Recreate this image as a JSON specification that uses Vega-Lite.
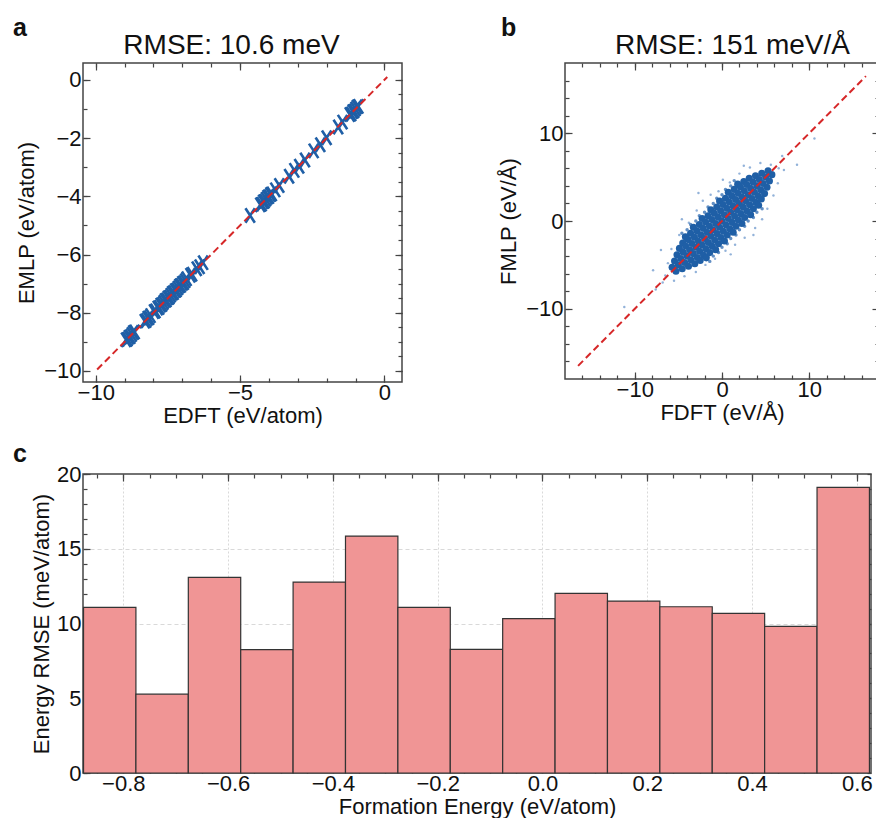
{
  "$schema": "https://vega.github.io/schema/vega-lite/v6.json",
  "autosize": {"type": "pad"},
  "padding": {"left": 12, "top": 15, "right": 0, "bottom": 0},
  "background": "white",
  "config": {
    "font": "Liberation Sans",
    "view": {"stroke": "#444", "strokeWidth": 1.5},
    "axis": {"domain": false, "grid": false, "labelFont": "Liberation Sans", "labelFontSize": 22, "labelColor": "#111", "titleFont": "Liberation Sans", "titleFontSize": 22, "titleFontWeight": "normal", "titleColor": "#111", "tickColor": "#444", "tickWidth": 1.2, "labelOverlap": false, "labelFlush": false, "zindex": 1, "minExtent": 0},
    "title": {"font": "Liberation Sans", "fontSize": 25, "fontWeight": "bold", "color": "#111", "anchor": "start", "frame": "group", "baseline": "alphabetic"}
  },
  "spacing": 14,
  "vconcat": [
    {
      "spacing": 92,
      "hconcat": [
        {
          "width": 319,
          "height": 319,
          "title": {"text": "a", "dx": -70, "offset": -10},
          "layer": [
            {
              "data": {"values": [
                {"E_DFT": -8.95, "E_MLP": -8.93}, {"E_DFT": -8.9, "E_MLP": -8.91}, {"E_DFT": -8.85, "E_MLP": -8.84}, {"E_DFT": -8.8, "E_MLP": -8.82}, {"E_DFT": -8.75, "E_MLP": -8.75}, {"E_DFT": -8.7, "E_MLP": -8.68}, {"E_DFT": -8.65, "E_MLP": -8.66},
                {"E_DFT": -8.3, "E_MLP": -8.29}, {"E_DFT": -8.25, "E_MLP": -8.27}, {"E_DFT": -8.2, "E_MLP": -8.19}, {"E_DFT": -8.15, "E_MLP": -8.17}, {"E_DFT": -8.1, "E_MLP": -8.1}, {"E_DFT": -7.98, "E_MLP": -7.96}, {"E_DFT": -7.93, "E_MLP": -7.94},
                {"E_DFT": -7.85, "E_MLP": -7.84}, {"E_DFT": -7.8, "E_MLP": -7.82}, {"E_DFT": -7.75, "E_MLP": -7.74}, {"E_DFT": -7.7, "E_MLP": -7.72}, {"E_DFT": -7.65, "E_MLP": -7.65}, {"E_DFT": -7.6, "E_MLP": -7.58}, {"E_DFT": -7.55, "E_MLP": -7.56}, {"E_DFT": -7.5, "E_MLP": -7.49}, {"E_DFT": -7.45, "E_MLP": -7.47}, {"E_DFT": -7.4, "E_MLP": -7.4}, {"E_DFT": -7.35, "E_MLP": -7.33}, {"E_DFT": -7.3, "E_MLP": -7.31}, {"E_DFT": -7.25, "E_MLP": -7.24}, {"E_DFT": -7.2, "E_MLP": -7.22}, {"E_DFT": -7.15, "E_MLP": -7.15}, {"E_DFT": -7.1, "E_MLP": -7.08}, {"E_DFT": -7.05, "E_MLP": -7.06}, {"E_DFT": -7.0, "E_MLP": -6.99}, {"E_DFT": -6.95, "E_MLP": -6.97}, {"E_DFT": -6.9, "E_MLP": -6.9}, {"E_DFT": -6.85, "E_MLP": -6.83},
                {"E_DFT": -6.72, "E_MLP": -6.71}, {"E_DFT": -6.66, "E_MLP": -6.68}, {"E_DFT": -6.5, "E_MLP": -6.49}, {"E_DFT": -6.4, "E_MLP": -6.42}, {"E_DFT": -6.28, "E_MLP": -6.28},
                {"E_DFT": -4.65, "E_MLP": -4.66},
                {"E_DFT": -4.3, "E_MLP": -4.29}, {"E_DFT": -4.25, "E_MLP": -4.27}, {"E_DFT": -4.2, "E_MLP": -4.19}, {"E_DFT": -4.15, "E_MLP": -4.17}, {"E_DFT": -4.1, "E_MLP": -4.1}, {"E_DFT": -4.05, "E_MLP": -4.03}, {"E_DFT": -4.0, "E_MLP": -4.01}, {"E_DFT": -3.95, "E_MLP": -3.94}, {"E_DFT": -3.9, "E_MLP": -3.92}, {"E_DFT": -3.78, "E_MLP": -3.78}, {"E_DFT": -3.64, "E_MLP": -3.63},
                {"E_DFT": -3.3, "E_MLP": -3.31}, {"E_DFT": -3.12, "E_MLP": -3.11}, {"E_DFT": -2.95, "E_MLP": -2.97}, {"E_DFT": -2.75, "E_MLP": -2.75}, {"E_DFT": -2.45, "E_MLP": -2.44}, {"E_DFT": -2.22, "E_MLP": -2.23}, {"E_DFT": -2.0, "E_MLP": -1.99}, {"E_DFT": -1.6, "E_MLP": -1.62}, {"E_DFT": -1.45, "E_MLP": -1.45},
                {"E_DFT": -1.2, "E_MLP": -1.19}, {"E_DFT": -1.15, "E_MLP": -1.17}, {"E_DFT": -1.1, "E_MLP": -1.09}, {"E_DFT": -1.05, "E_MLP": -1.07}, {"E_DFT": -1.0, "E_MLP": -1.0}, {"E_DFT": -0.95, "E_MLP": -0.93}, {"E_DFT": -0.9, "E_MLP": -0.91}
              ]},
              "mark": {"type": "point", "shape": "M-0.65,-1L0.65,1M-0.65,1L0.65,-1", "filled": false, "size": 210, "strokeWidth": 2.6, "color": "#1f5fa6", "opacity": 1},
              "encoding": {
                "x": {"field": "E_DFT", "type": "quantitative", "scale": {"domain": [-10.44, 0.61], "nice": false, "zero": false},
                  "axis": {"orient": "bottom", "values": [-10, -9, -8, -7, -6, -5, -4, -3, -2, -1, 0], "format": "d", "tickSize": -4, "labelExpr": "datum.value % 5 === 0 ? datum.label : ''", "title": "EDFT (eV/atom)", "labelPadding": 4, "titlePadding": 2}},
                "y": {"field": "E_MLP", "type": "quantitative", "scale": {"domain": [-10.38, 0.58], "nice": false, "zero": false},
                  "axis": {"orient": "left", "values": [-10, -9.5, -9, -8.5, -8, -7.5, -7, -6.5, -6, -5.5, -5, -4.5, -4, -3.5, -3, -2.5, -2, -1.5, -1, -0.5, 0], "format": "d", "tickSize": -4, "labelExpr": "datum.value % 2 === 0 ? datum.label : ''", "title": "EMLP (eV/atom)", "labelPadding": 6, "titlePadding": 5}}
              }
            },
            {
              "data": {"values": [{"E_DFT": -9.95, "E_MLP": -9.95}, {"E_DFT": 0.1, "E_MLP": 0.1}]},
              "mark": {"type": "line", "strokeOpacity": 0},
              "encoding": {
                "x": {"field": "E_DFT", "type": "quantitative", "axis": {"orient": "bottom", "values": [-10, -5, 0], "tickSize": -7, "labels": false, "title": null}},
                "y": {"field": "E_MLP", "type": "quantitative", "axis": {"orient": "left", "values": [-10, -8, -6, -4, -2, 0], "tickSize": -7, "labels": false, "title": null}}
              }
            },
            {
              "data": {"values": [{"E_DFT": -9.95, "E_MLP": -9.95}, {"E_DFT": 0.1, "E_MLP": 0.1}]},
              "mark": {"type": "line", "strokeOpacity": 0},
              "encoding": {
                "x": {"field": "E_DFT", "type": "quantitative", "axis": {"orient": "top", "values": [-10, -9, -8, -7, -6, -5, -4, -3, -2, -1, 0], "tickSize": -4, "labels": false, "title": "RMSE: 10.6 meV", "titleFontSize": 28, "titleBaseline": "alphabetic", "titlePadding": 9, "titleX": 148}},
                "y": {"field": "E_MLP", "type": "quantitative", "axis": {"orient": "right", "values": [-10, -9.5, -9, -8.5, -8, -7.5, -7, -6.5, -6, -5.5, -5, -4.5, -4, -3.5, -3, -2.5, -2, -1.5, -1, -0.5, 0], "tickSize": -4, "labels": false, "title": null}}
              }
            },
            {
              "data": {"values": [{"E_DFT": -9.95, "E_MLP": -9.95}, {"E_DFT": 0.1, "E_MLP": 0.1}]},
              "mark": {"type": "line", "color": "#d62728", "strokeDash": [7, 4], "strokeWidth": 2},
              "encoding": {
                "x": {"field": "E_DFT", "type": "quantitative", "axis": {"orient": "top", "values": [-10, -5, 0], "tickSize": -7, "labels": false, "title": null}},
                "y": {"field": "E_MLP", "type": "quantitative", "axis": {"orient": "right", "values": [-10, -8, -6, -4, -2, 0], "tickSize": -7, "labels": false, "title": null}}
              }
            }
          ],
          "resolve": {"axis": {"x": "independent", "y": "independent"}}
        },
        {
          "width": 314,
          "height": 316,
          "title": {"text": "b", "dx": -64, "offset": -10},
          "layer": [
            {
              "data": {"values": [
                {"F_DFT": -7.0, "F_MLP": -3.3}, {"F_DFT": -11.2, "F_MLP": -9.8}, {"F_DFT": -7.9, "F_MLP": -5.6}, {"F_DFT": 8.6, "F_MLP": 6.4}, {"F_DFT": 10.6, "F_MLP": 9.4}, {"F_DFT": 0.1, "F_MLP": 4.7}, {"F_DFT": -6.5, "F_MLP": -6.2}, {"F_DFT": -6.2, "F_MLP": -4.8}, {"F_DFT": -5.8, "F_MLP": -3.2}, {"F_DFT": -4.9, "F_MLP": -1.6}, {"F_DFT": -3.8, "F_MLP": -0.2}, {"F_DFT": -2.9, "F_MLP": 1.2}, {"F_DFT": -2.2, "F_MLP": 2.3}, {"F_DFT": -1.3, "F_MLP": 3.0}, {"F_DFT": -0.4, "F_MLP": 3.4}, {"F_DFT": 0.9, "F_MLP": 4.4}, {"F_DFT": 2.0, "F_MLP": 5.4}, {"F_DFT": 3.2, "F_MLP": 6.1}, {"F_DFT": 4.4, "F_MLP": 6.6}, {"F_DFT": 5.6, "F_MLP": 6.4}, {"F_DFT": 6.5, "F_MLP": 6.0}, {"F_DFT": 7.1, "F_MLP": 5.8}, {"F_DFT": 6.4, "F_MLP": 4.3}, {"F_DFT": 5.9, "F_MLP": 2.9}, {"F_DFT": 5.2, "F_MLP": 1.4}, {"F_DFT": 4.6, "F_MLP": 0.2}, {"F_DFT": 3.8, "F_MLP": -0.8}, {"F_DFT": 2.6, "F_MLP": -1.9}, {"F_DFT": 1.5, "F_MLP": -2.7}, {"F_DFT": 0.4, "F_MLP": -3.4}, {"F_DFT": -0.8, "F_MLP": -4.3}, {"F_DFT": -1.9, "F_MLP": -5.0}, {"F_DFT": -3.0, "F_MLP": -5.8}, {"F_DFT": -4.3, "F_MLP": -6.3}, {"F_DFT": -5.5, "F_MLP": -6.8}, {"F_DFT": -6.8, "F_MLP": -7.0}, {"F_DFT": 1.0, "F_MLP": -3.8}, {"F_DFT": 3.6, "F_MLP": -1.6}, {"F_DFT": -2.7, "F_MLP": 3.2}, {"F_DFT": -4.6, "F_MLP": 0.2}, {"F_DFT": 2.5, "F_MLP": 6.3}, {"F_DFT": 6.9, "F_MLP": 7.4}, {"F_DFT": -7.6, "F_MLP": -7.8}
              ]},
              "mark": {"type": "circle", "size": 6, "color": "#4a7fc0", "opacity": 0.6},
              "encoding": {
                "x": {"field": "F_DFT", "type": "quantitative", "scale": {"domain": [-18, 18], "nice": false, "zero": false},
                  "axis": {"orient": "bottom", "values": [-16, -14, -12, -10, -8, -6, -4, -2, 0, 2, 4, 6, 8, 10, 12, 14, 16], "tickSize": -4, "labelExpr": "datum.value % 10 === 0 ? datum.label : ''", "title": "FDFT (eV/Å)", "labelPadding": 4, "titlePadding": 2}},
                "y": {"field": "F_MLP", "type": "quantitative", "scale": {"domain": [-18, 18], "nice": false, "zero": false},
                  "axis": {"orient": "left", "values": [-16, -14, -12, -10, -8, -6, -4, -2, 0, 2, 4, 6, 8, 10, 12, 14, 16], "tickSize": -4, "labelExpr": "datum.value % 10 === 0 ? datum.label : ''", "title": "FMLP (eV/Å)", "labelPadding": 6, "titlePadding": 5}}
              }
            },
            {
              "data": {"values": [
                {"F_DFT": -1.4, "F_MLP": -4.6}, {"F_DFT": -4.6, "F_MLP": -1.4}, {"F_DFT": -0.4, "F_MLP": -3.6}, {"F_DFT": -3.6, "F_MLP": -0.4}, {"F_DFT": 0.6, "F_MLP": -2.6}, {"F_DFT": -2.6, "F_MLP": 0.6}, {"F_DFT": 1.6, "F_MLP": -1.6}, {"F_DFT": -1.6, "F_MLP": 1.6}, {"F_DFT": 2.6, "F_MLP": -0.6}, {"F_DFT": -0.6, "F_MLP": 2.6}, {"F_DFT": 3.6, "F_MLP": 0.4}, {"F_DFT": 0.4, "F_MLP": 3.6}, {"F_DFT": 4.6, "F_MLP": 1.4}, {"F_DFT": 1.4, "F_MLP": 4.6},
                {"F_DFT": -1, "F_MLP": -4}, {"F_DFT": -4, "F_MLP": -1}, {"F_DFT": 0, "F_MLP": -3}, {"F_DFT": -3, "F_MLP": 0}, {"F_DFT": 1, "F_MLP": -2}, {"F_DFT": -2, "F_MLP": 1}, {"F_DFT": 2, "F_MLP": -1}, {"F_DFT": -1, "F_MLP": 2}, {"F_DFT": 3, "F_MLP": 0}, {"F_DFT": 0, "F_MLP": 3}, {"F_DFT": 4, "F_MLP": 1}, {"F_DFT": 1, "F_MLP": 4}
              ]},
              "mark": {"type": "circle", "size": 12, "color": "#3b73b5", "opacity": 0.8},
              "encoding": {
                "x": {"field": "F_DFT", "type": "quantitative", "axis": null},
                "y": {"field": "F_MLP", "type": "quantitative", "axis": null}
              }
            },
            {
              "data": {"values": [
                {"F_DFT": -1.28, "F_MLP": 1.28}, {"F_DFT": -0.88, "F_MLP": 0.88}, {"F_DFT": -0.44, "F_MLP": 0.44}, {"F_DFT": 0, "F_MLP": 0}, {"F_DFT": 0.44, "F_MLP": -0.44}, {"F_DFT": 0.88, "F_MLP": -0.88}, {"F_DFT": 1.28, "F_MLP": -1.28},
                {"F_DFT": -0.28, "F_MLP": 2.28}, {"F_DFT": 0.12, "F_MLP": 1.88}, {"F_DFT": 0.56, "F_MLP": 1.44}, {"F_DFT": 1, "F_MLP": 1}, {"F_DFT": 1.44, "F_MLP": 0.56}, {"F_DFT": 1.88, "F_MLP": 0.12}, {"F_DFT": 2.28, "F_MLP": -0.28},
                {"F_DFT": -2.28, "F_MLP": 0.28}, {"F_DFT": -1.88, "F_MLP": -0.12}, {"F_DFT": -1.44, "F_MLP": -0.56}, {"F_DFT": -1, "F_MLP": -1}, {"F_DFT": -0.56, "F_MLP": -1.44}, {"F_DFT": -0.12, "F_MLP": -1.88}, {"F_DFT": 0.28, "F_MLP": -2.28},
                {"F_DFT": 0.72, "F_MLP": 3.28}, {"F_DFT": 1.12, "F_MLP": 2.88}, {"F_DFT": 1.56, "F_MLP": 2.44}, {"F_DFT": 2, "F_MLP": 2}, {"F_DFT": 2.44, "F_MLP": 1.56}, {"F_DFT": 2.88, "F_MLP": 1.12}, {"F_DFT": 3.28, "F_MLP": 0.72},
                {"F_DFT": -3.28, "F_MLP": -0.72}, {"F_DFT": -2.88, "F_MLP": -1.12}, {"F_DFT": -2.44, "F_MLP": -1.56}, {"F_DFT": -2, "F_MLP": -2}, {"F_DFT": -1.56, "F_MLP": -2.44}, {"F_DFT": -1.12, "F_MLP": -2.88}, {"F_DFT": -0.72, "F_MLP": -3.28},
                {"F_DFT": 1.8, "F_MLP": 4.2}, {"F_DFT": 2.12, "F_MLP": 3.88}, {"F_DFT": 2.56, "F_MLP": 3.44}, {"F_DFT": 3, "F_MLP": 3}, {"F_DFT": 3.44, "F_MLP": 2.56}, {"F_DFT": 3.88, "F_MLP": 2.12}, {"F_DFT": 4.2, "F_MLP": 1.8},
                {"F_DFT": -4.2, "F_MLP": -1.8}, {"F_DFT": -3.88, "F_MLP": -2.12}, {"F_DFT": -3.44, "F_MLP": -2.56}, {"F_DFT": -3, "F_MLP": -3}, {"F_DFT": -2.56, "F_MLP": -3.44}, {"F_DFT": -2.12, "F_MLP": -3.88}, {"F_DFT": -1.8, "F_MLP": -4.2},
                {"F_DFT": 3.12, "F_MLP": 4.88}, {"F_DFT": 3.56, "F_MLP": 4.44}, {"F_DFT": 4, "F_MLP": 4}, {"F_DFT": 4.44, "F_MLP": 3.56}, {"F_DFT": 4.88, "F_MLP": 3.12},
                {"F_DFT": -4.88, "F_MLP": -3.12}, {"F_DFT": -4.44, "F_MLP": -3.56}, {"F_DFT": -4, "F_MLP": -4}, {"F_DFT": -3.56, "F_MLP": -4.44}, {"F_DFT": -3.12, "F_MLP": -4.88},
                {"F_DFT": 4.56, "F_MLP": 5.44}, {"F_DFT": 5, "F_MLP": 5}, {"F_DFT": 5.44, "F_MLP": 4.56},
                {"F_DFT": -5.44, "F_MLP": -4.56}, {"F_DFT": -5, "F_MLP": -5}, {"F_DFT": -4.56, "F_MLP": -5.44},
                {"F_DFT": -0.6, "F_MLP": 1.6}, {"F_DFT": -0.16, "F_MLP": 1.16}, {"F_DFT": 0.28, "F_MLP": 0.72}, {"F_DFT": 0.72, "F_MLP": 0.28}, {"F_DFT": 1.16, "F_MLP": -0.16}, {"F_DFT": 1.6, "F_MLP": -0.6},
                {"F_DFT": -1.6, "F_MLP": 0.6}, {"F_DFT": -1.16, "F_MLP": 0.16}, {"F_DFT": -0.72, "F_MLP": -0.28}, {"F_DFT": -0.28, "F_MLP": -0.72}, {"F_DFT": 0.16, "F_MLP": -1.16}, {"F_DFT": 0.6, "F_MLP": -1.6},
                {"F_DFT": 0.4, "F_MLP": 2.6}, {"F_DFT": 0.84, "F_MLP": 2.16}, {"F_DFT": 1.28, "F_MLP": 1.72}, {"F_DFT": 1.72, "F_MLP": 1.28}, {"F_DFT": 2.16, "F_MLP": 0.84}, {"F_DFT": 2.6, "F_MLP": 0.4},
                {"F_DFT": -2.6, "F_MLP": -0.4}, {"F_DFT": -2.16, "F_MLP": -0.84}, {"F_DFT": -1.72, "F_MLP": -1.28}, {"F_DFT": -1.28, "F_MLP": -1.72}, {"F_DFT": -0.84, "F_MLP": -2.16}, {"F_DFT": -0.4, "F_MLP": -2.6},
                {"F_DFT": 1.4, "F_MLP": 3.6}, {"F_DFT": 1.84, "F_MLP": 3.16}, {"F_DFT": 2.28, "F_MLP": 2.72}, {"F_DFT": 2.72, "F_MLP": 2.28}, {"F_DFT": 3.16, "F_MLP": 1.84}, {"F_DFT": 3.6, "F_MLP": 1.4},
                {"F_DFT": -3.6, "F_MLP": -1.4}, {"F_DFT": -3.16, "F_MLP": -1.84}, {"F_DFT": -2.72, "F_MLP": -2.28}, {"F_DFT": -2.28, "F_MLP": -2.72}, {"F_DFT": -1.84, "F_MLP": -3.16}, {"F_DFT": -1.4, "F_MLP": -3.6},
                {"F_DFT": 2.5, "F_MLP": 4.5}, {"F_DFT": 2.84, "F_MLP": 4.16}, {"F_DFT": 3.28, "F_MLP": 3.72}, {"F_DFT": 3.72, "F_MLP": 3.28}, {"F_DFT": 4.16, "F_MLP": 2.84}, {"F_DFT": 4.5, "F_MLP": 2.5},
                {"F_DFT": -4.5, "F_MLP": -2.5}, {"F_DFT": -4.16, "F_MLP": -2.84}, {"F_DFT": -3.72, "F_MLP": -3.28}, {"F_DFT": -3.28, "F_MLP": -3.72}, {"F_DFT": -2.84, "F_MLP": -4.16}, {"F_DFT": -2.5, "F_MLP": -4.5},
                {"F_DFT": 3.84, "F_MLP": 5.16}, {"F_DFT": 4.28, "F_MLP": 4.72}, {"F_DFT": 4.72, "F_MLP": 4.28}, {"F_DFT": 5.16, "F_MLP": 3.84},
                {"F_DFT": -5.16, "F_MLP": -3.84}, {"F_DFT": -4.72, "F_MLP": -4.28}, {"F_DFT": -4.28, "F_MLP": -4.72}, {"F_DFT": -3.84, "F_MLP": -5.16},
                {"F_DFT": 5.28, "F_MLP": 5.72}, {"F_DFT": 5.72, "F_MLP": 5.28},
                {"F_DFT": -5.72, "F_MLP": -5.28}, {"F_DFT": -5.28, "F_MLP": -5.72}
              ]},
              "mark": {"type": "circle", "size": 50, "color": "#1f5fa6", "opacity": 1},
              "encoding": {
                "x": {"field": "F_DFT", "type": "quantitative", "axis": null},
                "y": {"field": "F_MLP", "type": "quantitative", "axis": null}
              }
            },
            {
              "data": {"values": [{"F_DFT": -16.5, "F_MLP": -16.5}, {"F_DFT": 16.5, "F_MLP": 16.5}]},
              "mark": {"type": "line", "strokeOpacity": 0},
              "encoding": {
                "x": {"field": "F_DFT", "type": "quantitative", "axis": {"orient": "bottom", "values": [-10, 0, 10], "tickSize": -7, "labels": false, "title": null}},
                "y": {"field": "F_MLP", "type": "quantitative", "axis": {"orient": "left", "values": [-10, 0, 10], "tickSize": -7, "labels": false, "title": null}}
              }
            },
            {
              "data": {"values": [{"F_DFT": -16.5, "F_MLP": -16.5}, {"F_DFT": 16.5, "F_MLP": 16.5}]},
              "mark": {"type": "line", "strokeOpacity": 0},
              "encoding": {
                "x": {"field": "F_DFT", "type": "quantitative", "axis": {"orient": "top", "values": [-16, -14, -12, -10, -8, -6, -4, -2, 0, 2, 4, 6, 8, 10, 12, 14, 16], "tickSize": -4, "labels": false, "title": "RMSE: 151 meV/Å", "titleFontSize": 28, "titleBaseline": "alphabetic", "titlePadding": 9, "titleX": 167}},
                "y": {"field": "F_MLP", "type": "quantitative", "axis": {"orient": "right", "values": [-16, -14, -12, -10, -8, -6, -4, -2, 0, 2, 4, 6, 8, 10, 12, 14, 16], "tickSize": -4, "labels": false, "title": null}}
              }
            },
            {
              "data": {"values": [{"F_DFT": -16.5, "F_MLP": -16.5}, {"F_DFT": 16.5, "F_MLP": 16.5}]},
              "mark": {"type": "line", "color": "#d62728", "strokeDash": [7, 4], "strokeWidth": 2},
              "encoding": {
                "x": {"field": "F_DFT", "type": "quantitative", "axis": {"orient": "top", "values": [-10, 0, 10], "tickSize": -7, "labels": false, "title": null}},
                "y": {"field": "F_MLP", "type": "quantitative", "axis": {"orient": "right", "values": [-10, 0, 10], "tickSize": -7, "labels": false, "title": null}}
              }
            }
          ],
          "resolve": {"axis": {"x": "independent", "y": "independent"}}
        }
      ]
    },
    {
      "width": 788,
      "height": 299,
      "title": {"text": "c", "dx": -70, "offset": -4},
      "data": {"values": [
        {"bin_start": -0.876, "bin_end": -0.776, "rmse": 11.08},
        {"bin_start": -0.776, "bin_end": -0.676, "rmse": 5.27},
        {"bin_start": -0.676, "bin_end": -0.576, "rmse": 13.09},
        {"bin_start": -0.576, "bin_end": -0.476, "rmse": 8.25},
        {"bin_start": -0.476, "bin_end": -0.376, "rmse": 12.77},
        {"bin_start": -0.376, "bin_end": -0.276, "rmse": 15.85},
        {"bin_start": -0.276, "bin_end": -0.176, "rmse": 11.08},
        {"bin_start": -0.176, "bin_end": -0.076, "rmse": 8.27},
        {"bin_start": -0.076, "bin_end": 0.024, "rmse": 10.33},
        {"bin_start": 0.024, "bin_end": 0.124, "rmse": 12.02},
        {"bin_start": 0.124, "bin_end": 0.224, "rmse": 11.5},
        {"bin_start": 0.224, "bin_end": 0.324, "rmse": 11.12},
        {"bin_start": 0.324, "bin_end": 0.424, "rmse": 10.68},
        {"bin_start": 0.424, "bin_end": 0.524, "rmse": 9.81},
        {"bin_start": 0.524, "bin_end": 0.624, "rmse": 19.1}
      ]},
      "layer": [
        {
          "mark": {"type": "point", "opacity": 0},
          "encoding": {
            "x": {"field": "bin_start", "type": "quantitative", "scale": {"domain": [-0.877, 0.627], "nice": false, "zero": false},
              "axis": {"orient": "top", "values": [-0.8, -0.6, -0.4, -0.2, 0, 0.2, 0.4, 0.6], "tickSize": -7, "labels": false, "title": null, "grid": true, "gridColor": "#d9d9d9", "gridDash": [2, 2], "gridWidth": 1, "zindex": 0}},
            "y": {"field": "rmse", "type": "quantitative", "scale": {"domain": [0, 20], "nice": false},
              "axis": {"orient": "right", "values": [5, 10, 15], "tickSize": -7, "labels": false, "title": null, "grid": true, "gridColor": "#d9d9d9", "gridDash": [4, 3], "gridWidth": 1, "zindex": 0}}
          }
        },
        {
          "mark": {"type": "rect", "color": "#f09595", "stroke": "#333", "strokeWidth": 1.2, "opacity": 1},
          "encoding": {
            "x": {"field": "bin_start", "type": "quantitative",
              "axis": {"orient": "bottom", "values": [-0.85, -0.8, -0.75, -0.7, -0.65, -0.6, -0.55, -0.5, -0.45, -0.4, -0.35, -0.3, -0.25, -0.2, -0.15, -0.1, -0.05, 0, 0.05, 0.1, 0.15, 0.2, 0.25, 0.3, 0.35, 0.4, 0.45, 0.5, 0.55, 0.6], "format": ".1f", "tickSize": -4, "labelExpr": "abs(round(datum.value*100)) % 20 === 0 ? datum.label : ''", "title": "Formation Energy (eV/atom)", "labelPadding": 4, "titlePadding": 2}},
            "x2": {"field": "bin_end"},
            "y": {"field": "rmse", "type": "quantitative",
              "axis": {"orient": "left", "values": [0, 1, 2, 3, 4, 5, 6, 7, 8, 9, 10, 11, 12, 13, 14, 15, 16, 17, 18, 19, 20], "tickSize": -4, "labelExpr": "datum.value % 5 === 0 ? datum.label : ''", "title": "Energy RMSE (meV/atom)", "labelPadding": 6, "titlePadding": 3}},
            "y2": {"datum": 0}
          }
        },
        {
          "mark": {"type": "point", "opacity": 0},
          "encoding": {
            "x": {"field": "bin_start", "type": "quantitative", "axis": {"orient": "bottom", "values": [-0.8, -0.6, -0.4, -0.2, 0, 0.2, 0.4, 0.6], "tickSize": -7, "labels": false, "title": null}},
            "y": {"field": "rmse", "type": "quantitative", "axis": {"orient": "left", "values": [0, 5, 10, 15, 20], "tickSize": -7, "labels": false, "title": null}}
          }
        },
        {
          "mark": {"type": "point", "opacity": 0},
          "encoding": {
            "x": {"field": "bin_start", "type": "quantitative", "axis": {"orient": "top", "values": [-0.85, -0.8, -0.75, -0.7, -0.65, -0.6, -0.55, -0.5, -0.45, -0.4, -0.35, -0.3, -0.25, -0.2, -0.15, -0.1, -0.05, 0, 0.05, 0.1, 0.15, 0.2, 0.25, 0.3, 0.35, 0.4, 0.45, 0.5, 0.55, 0.6], "tickSize": -4, "labels": false, "title": null}},
            "y": {"field": "rmse", "type": "quantitative", "axis": {"orient": "right", "values": [0, 1, 2, 3, 4, 5, 6, 7, 8, 9, 10, 11, 12, 13, 14, 15, 16, 17, 18, 19, 20], "tickSize": -4, "labels": false, "title": null}}
          }
        }
      ],
      "resolve": {"axis": {"x": "independent", "y": "independent"}}
    }
  ]
}
